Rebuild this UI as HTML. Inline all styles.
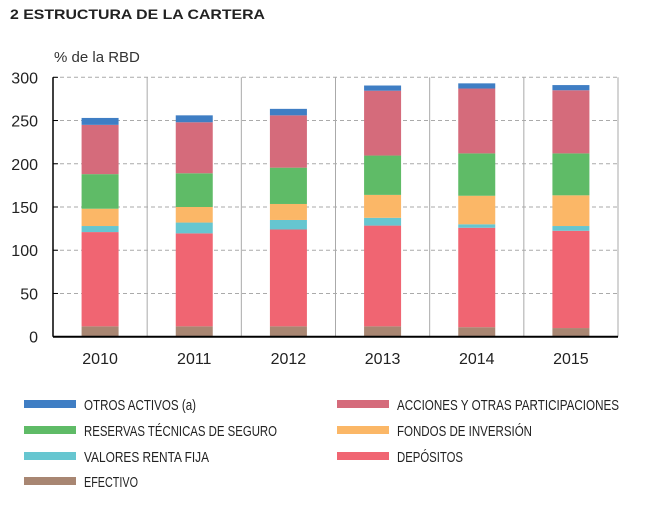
<!DOCTYPE html>
<html><head><meta charset="utf-8"><style>
body{margin:0;background:#fff;}
svg{display:block;font-family:"Liberation Sans",sans-serif;}
</style></head><body>
<svg id="chart" width="666" height="521">
<text x="10" y="19" font-size="14" font-weight="bold" fill="#222" textLength="255" lengthAdjust="spacingAndGlyphs">2  ESTRUCTURA DE LA CARTERA</text>
<text x="54" y="62" font-size="15" fill="#333">% de la RBD</text>
<g id="grid"></g><g id="bars"></g><g id="axes"></g><g id="legend"></g>
</svg>
<script>
const categories=["2010","2011","2012","2013","2014","2015"];
const efectivo=[12,12,12,12,11,10];
const depositos=[109,107.5,112,116.5,115,112.5];
const valores=[7,12.5,11,9,4,5.5];
const fondos=[20,18,18.5,26.5,33,35.5];
const reservas=[40,39,42,45.5,49,48.5];
const acciones=[57,59,60.5,75,75,73];
const otros=[8,8,7.5,6,6,6];
const yTicks=[0,50,100,150,200,250,300];
const seriesNames=["EFECTIVO","DEPÓSITOS","VALORES RENTA FIJA","FONDOS DE INVERSIÓN","RESERVAS TÉCNICAS DE SEGURO","ACCIONES Y OTRAS PARTICIPACIONES","OTROS ACTIVOS (a)"];

const NS="http://www.w3.org/2000/svg";
const x0=53,x1=618,yTop=77.3,yBot=336.7,yMax=300;
const bw=(x1-x0)/categories.length;
const y=v=>yBot-(v/yMax)*(yBot-yTop);
const xc=i=>x0+bw*(i+0.5);
function mk(tag,attrs,parent){const e=document.createElementNS(NS,tag);for(const k in attrs)e.setAttribute(k,attrs[k]);parent.appendChild(e);return e;}
const grid=document.getElementById('grid'),bars=document.getElementById('bars'),axes=document.getElementById('axes'),legend=document.getElementById('legend');
yTicks.forEach(t=>{
  if(t>0){const l=mk('line',{x1:x0,x2:x1,y1:y(t),y2:y(t),stroke:'#aaa','stroke-dasharray':'4,3','stroke-width':1},grid);
  
  }
  const tk=mk('line',{x1:x0,x2:x0+5,y1:y(t),y2:y(t),stroke:'#000','stroke-width':1},axes);
  
  
  const tx=mk('text',{x:38,y:y(t)+6,'font-size':16,'text-anchor':'end',fill:'#222'},axes);
  tx.textContent=t;
  
  
});
for(let i=1;i<=categories.length;i++){
  const l=mk('line',{x1:x0+bw*i,x2:x0+bw*i,y1:yTop,y2:yBot,stroke:'#aaa','stroke-width':1},grid);
  
  
}
const series=[efectivo,depositos,valores,fondos,reservas,acciones,otros];
const colors=["#a88672","#f06572","#66c6d0","#fbb767","#5fbb67","#d56b7b","#3f7ec4"];
const keys=["efectivo","depositos","valores","fondos","reservas","acciones","otros"];
categories.forEach((c,i)=>{
  let cum=0;
  series.forEach((s,k)=>{
    const r=mk('rect',{x:xc(i)-18.5,width:37,y:y(cum+s[i]),height:y(cum)-y(cum+s[i]),fill:colors[k]},bars);
    
    
    cum+=s[i];
  });
  const tx=mk('text',{x:xc(i),y:364,'font-size':16,'text-anchor':'middle',fill:'#222'},axes);
  tx.textContent=c;
  
  
});
const ax=mk('line',{x1:x0,x2:x0,y1:yTop,y2:yBot,stroke:'#000','stroke-width':1.5},axes);


const bx=mk('line',{x1:x0,x2:x1,y1:yBot,y2:yBot,stroke:'#000','stroke-width':2},axes);


// legend: [seriesIndex, x, y, textLength]
const legendItems=[[6,24,404,112],[5,337,404,222],[4,24,430,193],[3,337,430,135],[2,24,456,125],[1,337,456,66],[0,24,481,54]];
legendItems.forEach(([k,lx,ly,tl])=>{
  const g=mk('g',{},legend);
  
  
  mk('rect',{x:lx,y:ly-4,width:52,height:8,fill:colors[k]},g);
  const t=mk('text',{x:lx+60,y:ly+6,'font-size':15,fill:'#222',textLength:tl,lengthAdjust:'spacingAndGlyphs'},g);
  t.textContent=seriesNames[k];
});
</script>
</body></html>
